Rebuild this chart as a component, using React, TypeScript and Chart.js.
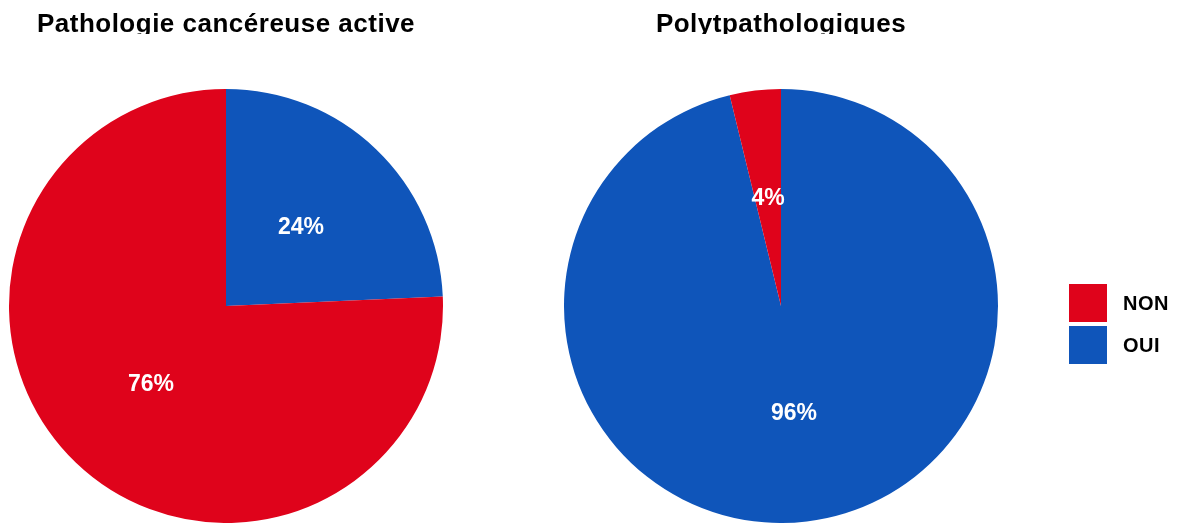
import React, { useEffect, useRef } from "react";
import { Chart, registerables } from "chart.js";

Chart.register(...registerables);

const categories = ["OUI", "NON"];
const legendOrder = ["NON", "OUI"];
const cancerValues = [24.3, 75.7];
const polyValues = [96.2, 3.8];
const titles = ["Pathologie cancéreuse active", "Polytpathologiques"];
const colorMap: Record<string, string> = { NON: "#DF031B", OUI: "#0F55BA" };

const FONT = "'Liberation Sans', Arial, sans-serif";

const labelPlugin = {
  id: "sliceLabels",
  afterDatasetsDraw(chart: any) {
    const ctx = chart.ctx;
    const meta = chart.getDatasetMeta(0);
    const data = chart.data.datasets[0].data as number[];
    ctx.save();
    ctx.fillStyle = "#ffffff";
    ctx.font = `bold 23px ${FONT}`;
    ctx.textAlign = "center";
    ctx.textBaseline = "middle";
    meta.data.forEach((arc: any, i: number) => {
      const p = arc.getCenterPoint();
      ctx.fillText(`${Math.round(data[i])}%`, p.x, p.y);
    });
    ctx.restore();
  },
};

const titlePlugin = {
  id: "clippedTitle",
  afterDraw(chart: any) {
    const opts = chart.options.plugins.clippedTitle;
    if (!opts) return;
    const ctx = chart.ctx;
    const area = chart.chartArea;
    ctx.save();
    ctx.beginPath();
    ctx.rect(0, 0, chart.width, 34);
    ctx.clip();
    ctx.fillStyle = "#000000";
    ctx.font = `bold 26px ${FONT}`;
    (ctx as any).letterSpacing = "0.5px";
    ctx.textAlign = "center";
    ctx.textBaseline = "alphabetic";
    ctx.fillText(opts.text, (area.left + area.right) / 2, 32);
    ctx.restore();
  },
};

const legendPlugin = {
  id: "sideLegend",
  afterDraw(chart: any) {
    const opts = chart.options.plugins.sideLegend;
    if (!opts || !opts.show) return;
    const ctx = chart.ctx;
    const x0 = chart.chartArea.right + 71;
    ctx.save();
    legendOrder.forEach((name, i) => {
      const y = 284 + i * 42;
      ctx.fillStyle = colorMap[name];
      ctx.fillRect(x0, y, 38, 38);
      ctx.fillStyle = "#000000";
      ctx.font = `bold 20px ${FONT}`;
      (ctx as any).letterSpacing = "0.5px";
      ctx.textAlign = "left";
      ctx.textBaseline = "middle";
      ctx.fillText(name, x0 + 54, y + 20);
    });
    ctx.restore();
  },
};

function PieCanvas(props: {
  values: number[];
  title: string;
  left: number;
  width: number;
  padRight: number;
  showLegend: boolean;
}) {
  const ref = useRef<HTMLCanvasElement>(null);
  useEffect(() => {
    if (!ref.current) return;
    const chart = new Chart(ref.current, {
      type: "pie",
      data: {
        labels: categories,
        datasets: [
          {
            data: props.values,
            backgroundColor: categories.map((c) => colorMap[c]),
            borderWidth: 0,
          },
        ],
      },
      options: {
        animation: false,
        responsive: false,
        layout: { padding: { top: 89, bottom: 0, left: 0, right: props.padRight } },
        plugins: {
          legend: { display: false },
          tooltip: { enabled: false },
          clippedTitle: { text: props.title },
          sideLegend: { show: props.showLegend },
        } as any,
      },
      plugins: [labelPlugin, titlePlugin, legendPlugin],
    });
    return () => chart.destroy();
  }, []);
  return (
    <canvas
      ref={ref}
      width={props.width}
      height={523}
      style={{ position: "absolute", left: props.left, top: 0, width: props.width, height: 523 }}
    />
  );
}

export default function App() {
  useEffect(() => {
    document.body.style.margin = "0";
  }, []);
  return (
    <div style={{ position: "fixed", left: 0, top: 0, width: 1180, height: 523, background: "#ffffff" }}>
      <PieCanvas values={cancerValues} title={titles[0]} left={0} width={452} padRight={0} showLegend={false} />
      <PieCanvas values={polyValues} title={titles[1]} left={564} width={616} padRight={182} showLegend={true} />
    </div>
  );
}
